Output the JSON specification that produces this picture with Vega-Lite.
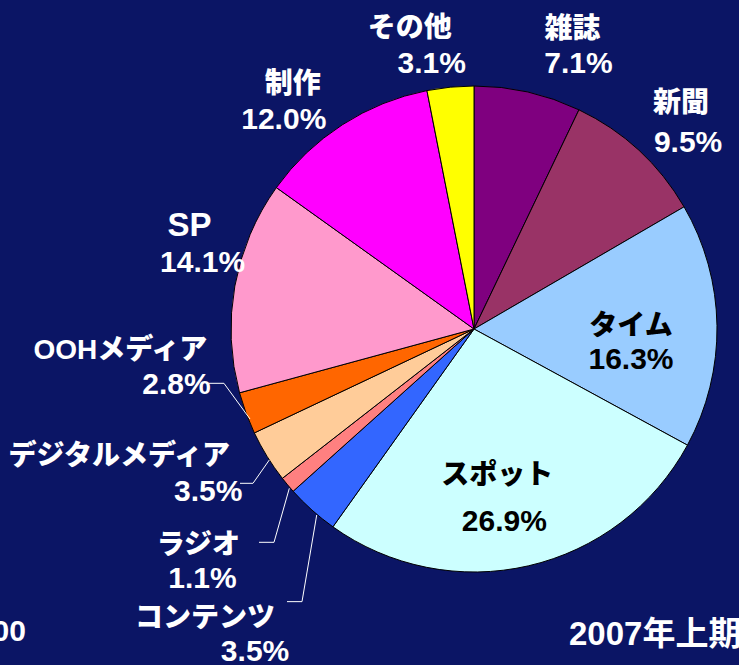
{
  "$schema": "https://vega.github.io/schema/vega-lite/v6.json",
  "width": 739,
  "height": 665,
  "autosize": "none",
  "padding": 0,
  "background": "#0B1565",
  "config": {
    "view": {"stroke": null},
    "style": {
      "nm": {"font": "Liberation Sans, Noto Sans CJK JP", "fontSize": 28, "fontWeight": 900, "align": "center", "baseline": "middle", "color": "#FFFFFF"},
      "pc": {"font": "Liberation Sans", "fontSize": 30, "fontWeight": "bold", "align": "center", "baseline": "middle", "color": "#FFFFFF"}
    }
  },
  "datasets": {
    "shares": [
      {"name": "雑誌", "value": 7.1, "order": 1},
      {"name": "新聞", "value": 9.5, "order": 2},
      {"name": "タイム", "value": 16.3, "order": 3},
      {"name": "スポット", "value": 26.9, "order": 4},
      {"name": "コンテンツ", "value": 3.5, "order": 5},
      {"name": "ラジオ", "value": 1.1, "order": 6},
      {"name": "デジタルメディア", "value": 3.5, "order": 7},
      {"name": "OOHメディア", "value": 2.8, "order": 8},
      {"name": "SP", "value": 14.1, "order": 9},
      {"name": "制作", "value": 12.0, "order": 10},
      {"name": "その他", "value": 3.1, "order": 11}
    ],
    "leaders": [
      {"id": "OOH", "s": 1, "u": -109.05, "v": -22.35},
      {"id": "OOH", "s": 2, "u": -102.9, "v": -22.35},
      {"id": "OOH", "s": 3, "u": -92.18, "v": -37.04},
      {"id": "DIG", "s": 1, "u": -96.3, "v": -63.5},
      {"id": "DIG", "s": 2, "u": -90.95, "v": -63.5},
      {"id": "DIG", "s": 3, "u": -84.24, "v": -53.91},
      {"id": "RAD", "s": 1, "u": -88.48, "v": -87.78},
      {"id": "RAD", "s": 2, "u": -82.3, "v": -87.78},
      {"id": "RAD", "s": 3, "u": -76.0, "v": -65.56},
      {"id": "CON", "s": 1, "u": -76.95, "v": -112.2},
      {"id": "CON", "s": 2, "u": -70.78, "v": -112.2},
      {"id": "CON", "s": 3, "u": -64.73, "v": -76.54}
    ],
    "notes": [
      {"t": "2007年上期", "u": 39.1, "v": -130.0, "k": "L"},
      {"t": "00", "u": -184.4, "v": -128.4, "k": "R"}
    ]
  },
  "layer": [
    {
      "data": {"name": "shares"},
      "transform": [
        {"window": [{"op": "sum", "field": "value", "as": "cum"}], "sort": [{"field": "order"}], "frame": [null, 0]},
        {"calculate": "datum.cum - datum.value / 2", "as": "mid"},
        {"calculate": "format(datum.value, '.1f') + '%'", "as": "pct"}
      ],
      "encoding": {
        "x": {"datum": 0, "type": "quantitative", "scale": {"domain": [-195.06, 109.05], "nice": false, "zero": false}, "axis": null},
        "y": {"datum": 0, "type": "quantitative", "scale": {"domain": [-138.27, 135.39], "nice": false, "zero": false}, "axis": null}
      },
      "layer": [
        {
          "mark": {"type": "arc", "outerRadius": 243, "stroke": "#000000", "strokeWidth": 1},
          "encoding": {
            "theta": {"field": "value", "type": "quantitative", "stack": true, "scale": {"domain": [0, 99.9]}},
            "order": {"field": "order", "type": "quantitative"},
            "color": {
              "field": "name", "type": "nominal", "legend": null,
              "scale": {
                "domain": ["雑誌", "新聞", "タイム", "スポット", "コンテンツ", "ラジオ", "デジタルメディア", "OOHメディア", "SP", "制作", "その他"],
                "range": ["#7F007F", "#993366", "#99CCFF", "#CCFFFF", "#3366FF", "#FF8080", "#FFCC99", "#FF6600", "#FF99CC", "#FF00FF", "#FFFF00"]
              }
            }
          }
        },
        {
          "encoding": {
            "theta": {"field": "mid", "type": "quantitative", "stack": null, "scale": {"domain": [0, 99.9]}}
          },
          "layer": [
            {"transform": [{"filter": "datum.order == 1"}], "mark": {"type": "text", "style": "nm", "radius": 300, "dx": 32, "dy": -6}, "encoding": {"text": {"field": "name"}}},
            {"transform": [{"filter": "datum.order == 1"}], "mark": {"type": "text", "style": "pc", "radius": 300, "dx": 38, "dy": 28}, "encoding": {"text": {"field": "pct"}}},
            {"transform": [{"filter": "datum.order == 2"}], "mark": {"type": "text", "style": "nm", "radius": 295, "dx": 7, "dy": -8}, "encoding": {"text": {"field": "name"}}},
            {"transform": [{"filter": "datum.order == 2"}], "mark": {"type": "text", "style": "pc", "radius": 295, "dx": 14, "dy": 31}, "encoding": {"text": {"field": "pct"}}},
            {"transform": [{"filter": "datum.order == 3"}], "mark": {"type": "text", "style": "nm", "radius": 157, "dx": 0, "dy": 0, "color": "#000000"}, "encoding": {"text": {"field": "name"}}},
            {"transform": [{"filter": "datum.order == 3"}], "mark": {"type": "text", "style": "pc", "radius": 157, "dx": 0, "dy": 33, "color": "#000000"}, "encoding": {"text": {"field": "pct"}}},
            {"transform": [{"filter": "datum.order == 4"}], "mark": {"type": "text", "style": "nm", "radius": 175, "dx": -16, "dy": -24, "color": "#000000"}, "encoding": {"text": {"field": "name"}}},
            {"transform": [{"filter": "datum.order == 4"}], "mark": {"type": "text", "style": "pc", "radius": 175, "dx": -9, "dy": 22, "color": "#000000"}, "encoding": {"text": {"field": "pct"}}},
            {"transform": [{"filter": "datum.order == 5"}], "mark": {"type": "text", "style": "nm", "radius": 390, "dx": -9, "dy": -1}, "encoding": {"text": {"field": "name"}}},
            {"transform": [{"filter": "datum.order == 5"}], "mark": {"type": "text", "style": "pc", "radius": 390, "dx": 41, "dy": 32}, "encoding": {"text": {"field": "pct"}}},
            {"transform": [{"filter": "datum.order == 6"}], "mark": {"type": "text", "style": "nm", "radius": 358, "dx": -1, "dy": -13}, "encoding": {"text": {"field": "name"}}},
            {"transform": [{"filter": "datum.order == 6"}], "mark": {"type": "text", "style": "pc", "radius": 358, "dx": 3, "dy": 20}, "encoding": {"text": {"field": "pct"}}},
            {"transform": [{"filter": "datum.order == 7"}], "mark": {"type": "text", "style": "nm", "radius": 345, "dx": -61, "dy": -53}, "encoding": {"text": {"field": "name"}}},
            {"transform": [{"filter": "datum.order == 7"}], "mark": {"type": "text", "style": "pc", "radius": 345, "dx": 28, "dy": -18}, "encoding": {"text": {"field": "pct"}}},
            {"transform": [{"filter": "datum.order == 8"}], "mark": {"type": "text", "style": "nm", "radius": 330, "dx": -44, "dy": -92}, "encoding": {"text": {"field": "name"}}},
            {"transform": [{"filter": "datum.order == 8"}], "mark": {"type": "text", "style": "pc", "radius": 330, "dx": 12, "dy": -58}, "encoding": {"text": {"field": "pct"}}},
            {"transform": [{"filter": "datum.order == 9"}], "mark": {"type": "text", "style": "nm", "radius": 290, "dx": 1, "dy": -52, "fontSize": 33}, "encoding": {"text": {"field": "name"}}},
            {"transform": [{"filter": "datum.order == 9"}], "mark": {"type": "text", "style": "pc", "radius": 290, "dx": 14, "dy": -15}, "encoding": {"text": {"field": "pct"}}},
            {"transform": [{"filter": "datum.order == 10"}], "mark": {"type": "text", "style": "nm", "radius": 294, "dx": -22, "dy": 3}, "encoding": {"text": {"field": "name"}}},
            {"transform": [{"filter": "datum.order == 10"}], "mark": {"type": "text", "style": "pc", "radius": 294, "dx": -31, "dy": 38}, "encoding": {"text": {"field": "pct"}}},
            {"transform": [{"filter": "datum.order == 11"}], "mark": {"type": "text", "style": "nm", "radius": 290, "dx": -36, "dy": -11}, "encoding": {"text": {"field": "name"}}},
            {"transform": [{"filter": "datum.order == 11"}], "mark": {"type": "text", "style": "pc", "radius": 290, "dx": -14, "dy": 24}, "encoding": {"text": {"field": "pct"}}}
          ]
        }
      ]
    },
    {
      "data": {"name": "leaders"},
      "mark": {"type": "line", "color": "#FFFFFF", "strokeWidth": 1},
      "encoding": {
        "x": {"field": "u", "type": "quantitative", "scale": {"domain": [-195.06, 109.05], "nice": false, "zero": false}, "axis": null},
        "y": {"field": "v", "type": "quantitative", "scale": {"domain": [-138.27, 135.39], "nice": false, "zero": false}, "axis": null},
        "detail": {"field": "id"},
        "order": {"field": "s", "type": "quantitative"}
      }
    },
    {
      "data": {"name": "notes"},
      "transform": [{"filter": "datum.k == 'L'"}],
      "mark": {"type": "text", "font": "Liberation Sans, Noto Sans CJK JP", "fontSize": 33, "fontWeight": "bold", "color": "#FFFFFF", "align": "left", "baseline": "alphabetic"},
      "encoding": {
        "x": {"field": "u", "type": "quantitative", "scale": {"domain": [-195.06, 109.05], "nice": false, "zero": false}, "axis": null},
        "y": {"field": "v", "type": "quantitative", "scale": {"domain": [-138.27, 135.39], "nice": false, "zero": false}, "axis": null},
        "text": {"field": "t"}
      }
    },
    {
      "data": {"name": "notes"},
      "transform": [{"filter": "datum.k == 'R'"}],
      "mark": {"type": "text", "font": "Liberation Sans, Noto Sans CJK JP", "fontSize": 30, "fontWeight": "bold", "color": "#FFFFFF", "align": "right", "baseline": "alphabetic"},
      "encoding": {
        "x": {"field": "u", "type": "quantitative", "scale": {"domain": [-195.06, 109.05], "nice": false, "zero": false}, "axis": null},
        "y": {"field": "v", "type": "quantitative", "scale": {"domain": [-138.27, 135.39], "nice": false, "zero": false}, "axis": null},
        "text": {"field": "t"}
      }
    }
  ]
}
